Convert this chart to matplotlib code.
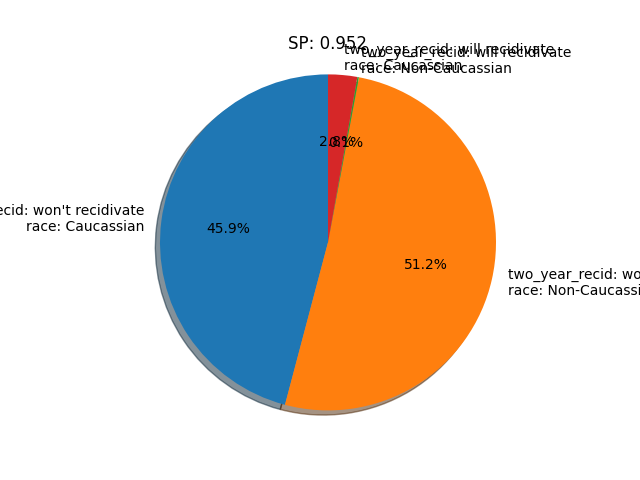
import matplotlib
matplotlib.use("Agg")
import matplotlib.pyplot as plt

labels = ["two_year_recid: won't recidivate\nrace: Caucassian",
          "two_year_recid: won't recidivate\nrace: Non-Caucassian",
          "two_year_recid: will recidivate\nrace: Non-Caucassian",
          "two_year_recid: will recidivate\nrace: Caucassian"]
values = [45.9, 51.2, 0.15, 2.8]
colors = ["#1f77b4", "#ff7f0e", "#2ca02c", "#d62728"]

fig, ax = plt.subplots(figsize=(6.4, 4.8), dpi=100)
ax.pie(values, labels=labels, colors=colors, autopct="%1.1f%%", shadow=True, startangle=90)
ax.set_xlim(-1.1, 1.1)
ax.set_ylim(-1.1, 1.1)
ax.set_title("SP: 0.952")
fig.savefig("out.png")
